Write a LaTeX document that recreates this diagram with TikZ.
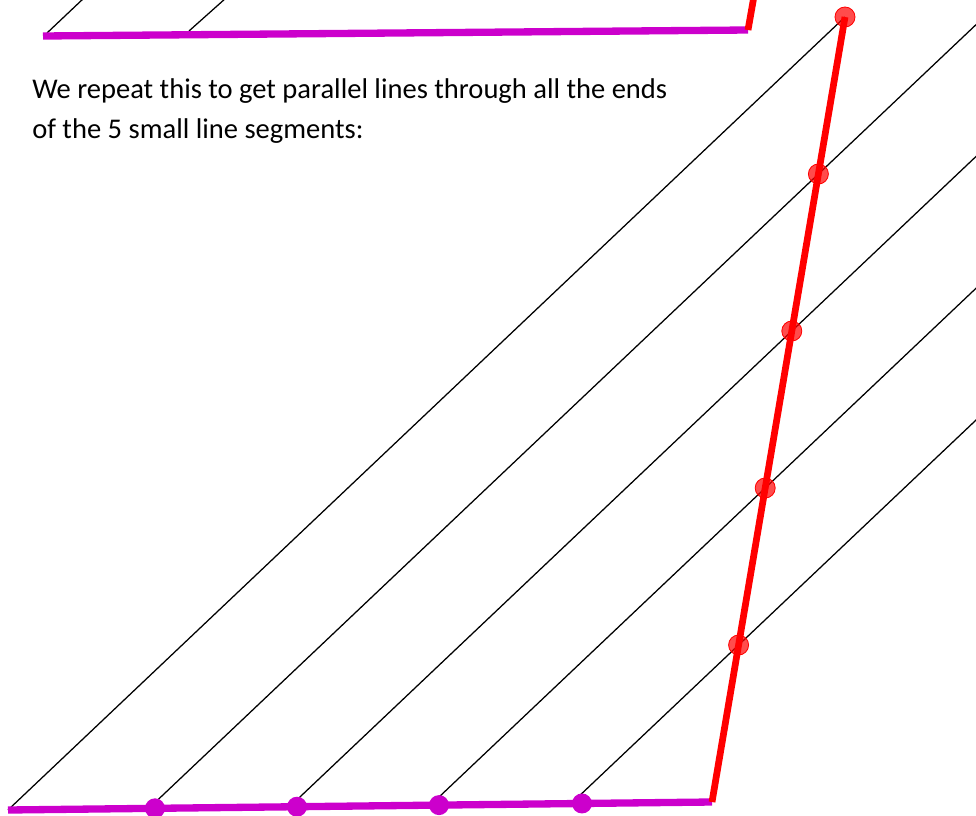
\documentclass[tikz,border=0pt]{standalone}
\usepackage{fontspec}
\setmainfont{Carlito}
\usetikzlibrary{calc,positioning}
\definecolor{seg-magenta}{HTML}{CC00CC}
\definecolor{seg-red}{HTML}{FF0000}

\begin{document}
\begin{tikzpicture}[x=0.025cm, y=-0.025cm,
    ray/.style={draw=black, line width=0.9pt},
    magline/.style={draw=seg-magenta, line width=5.2pt},
    redline/.style={draw=seg-red, line width=4.8pt},
    magdot/.style={circle, fill=seg-magenta, inner sep=0pt, minimum size=0.5cm},
    reddot/.style={circle, draw=seg-red, fill=seg-red, fill opacity=0.7, line width=0.6pt, inner sep=0pt, minimum size=0.5cm},
    txt/.style={anchor=base west, inner sep=0pt, font=\fontsize{20.3pt}{26pt}\selectfont}]

    \useasboundingbox (0,0) rectangle (976,816);
    \clip (0,0) rectangle (976,816);

    % previous step, cut off at the top
    \coordinate (oldA) at (43,36);
    \coordinate (oldB) at (748,30);
    \coordinate (oldC) at (754,-4);
    \coordinate (oldF1) at (47,33);
    \coordinate (oldG1) at (84,-2);
    \coordinate (oldF2) at (189,31);
    \coordinate (oldG2) at (226,-2);
    \draw[ray] (oldF1) -- (oldG1);
    \draw[ray] (oldF2) -- (oldG2);
    \draw[magline] (oldA) -- (oldB);
    \draw[redline] (oldB) -- (oldC);

    % text
    \node[txt] (line1) at (32,98) {We repeat this to get parallel lines through all the ends};
    \node[txt] (line2) at (32,138) {of the 5 small line segments:};

    % main construction
    \coordinate (A) at (8,810);
    \coordinate (B) at (712,802);
    \coordinate (C) at (845,17);

    \foreach \i in {1,...,4} {
        \coordinate (r\i) at ($(B)!\i/5!(C)$);
        \coordinate (q\i) at ($(r\i)+(A)-(C)$);
        \coordinate (f\i) at (intersection of A--B and r\i--q\i);
        \coordinate (e\i) at ($(r\i)+(C)-(A)$);
        \draw[ray] (f\i) -- (r\i) -- (e\i);
    }
    \draw[ray] (A) -- (C);

    \draw[magline] (A) -- (B);
    \draw[redline] (B) -- (C);

    % points on the purple segment
    \foreach \x [count=\i] in {155,297,439,582}
        \node[magdot] (m\i) at ($(A)!{(\x-8)/704}!(B)$) {};

    % points on the red segment
    \foreach \i in {1,...,4}
        \node[reddot] (p\i) at (r\i) {};
    \node[reddot] (p5) at (C) {};

\end{tikzpicture}
\end{document}
